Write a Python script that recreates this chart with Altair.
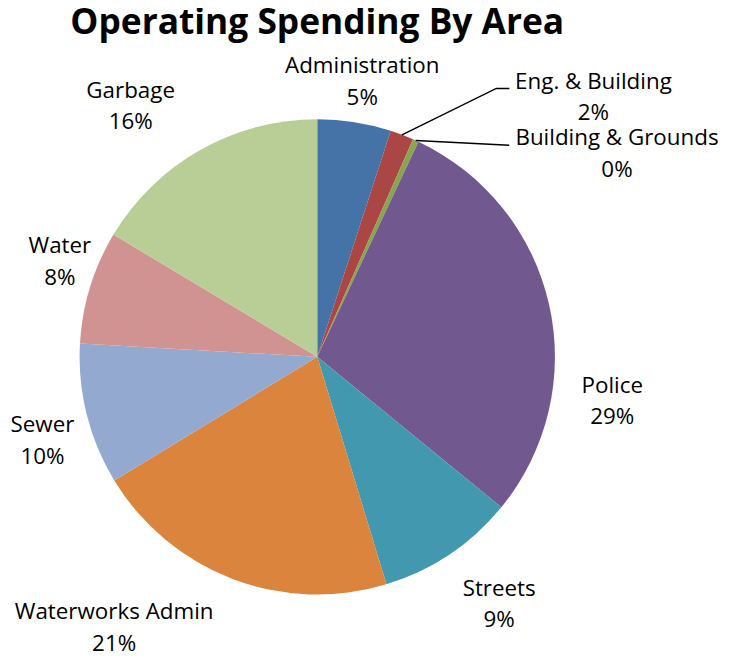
import math
import altair as alt
import pandas as pd

# ---- data ----
categories = ["Administration", "Eng. & Building", "Building & Grounds", "Police",
              "Streets", "Waterworks Admin", "Sewer", "Water", "Garbage"]
values = [5.0, 1.6, 0.4, 28.9, 9.4, 21.0, 9.6, 7.7, 16.4]
pct_labels = ["5%", "2%", "0%", "29%", "9%", "21%", "10%", "8%", "16%"]

# ---- styles ----
colors = ["#4572A7", "#AA4643", "#89A54E", "#71588F", "#4198AF",
          "#DB843D", "#93A9CF", "#D19392", "#B9CD96"]
label_angle_deg = [9.3, 46.8, 55.9, 98.6, 143.7, 216.8, 253.0, 290.3, 323.3]
label_radius = [280, 381, 364, 300, 309, 341, 289, 276, 314]
R = 239
W, H = 622, 586
FONT = "Open Sans"

df = pd.DataFrame({
    "cat": categories,
    "value": values,
    "order": list(range(len(categories))),
    "label": [[c, p] for c, p in zip(categories, pct_labels)],
    "lt": [math.radians(a) for a in label_angle_deg],
    "lr": label_radius,
})

# leader lines for the two thin slices (polar points: angle deg, radius)
total = sum(values)
cum = [sum(values[:i]) for i in range(len(values))]
mid = [(cum[i] + values[i] / 2) / total * 360 for i in range(len(values))]
leaders = {
    1: [(mid[1], R), (33.7, 324.5), (35.6, 331.9)],
    2: [(mid[2], R), (42.2, 287.4)],
}
rows = []
for k, pts in leaders.items():
    for j, (a, r) in enumerate(pts):
        rows.append({"g": k, "j": j,
                     "x": W / 2 + r * math.sin(math.radians(a)),
                     "y": H / 2 - r * math.cos(math.radians(a))})
ldf = pd.DataFrame(rows)

base = alt.Chart(df)

pie = base.mark_arc(outerRadius=R).encode(
    theta=alt.Theta("value:Q", stack=True),
    color=alt.Color("cat:N", scale=alt.Scale(domain=categories, range=colors), legend=None),
    order=alt.Order("order:Q"),
)

text = base.mark_text(font=FONT, fontSize=22.5, color="#000000", align="center",
                      baseline="middle", lineHeight=32, dy=-16).encode(
    theta=alt.Theta("lt:Q", scale=None),
    radius=alt.Radius("lr:Q", scale=None),
    text="label",
)

lines = alt.Chart(ldf).mark_line(color="#000000", strokeWidth=1.5).encode(
    x=alt.X("x:Q", scale=None),
    y=alt.Y("y:Q", scale=None),
    detail="g:N",
    order="j:Q",
)

chart = alt.layer(pie, lines, text).properties(
    width=W, height=H,
    title=alt.Title("Operating Spending By Area", font=FONT, fontSize=35.5,
                    fontWeight="bold", color="#000000", anchor="middle", offset=14),
    autosize=alt.AutoSizeParams(type="none"),
    padding={"left": 0, "top": 56, "right": 95, "bottom": 6},
).configure_view(stroke=None)

chart.save("out.html", embed_options={"renderer": "svg", "actions": False})
